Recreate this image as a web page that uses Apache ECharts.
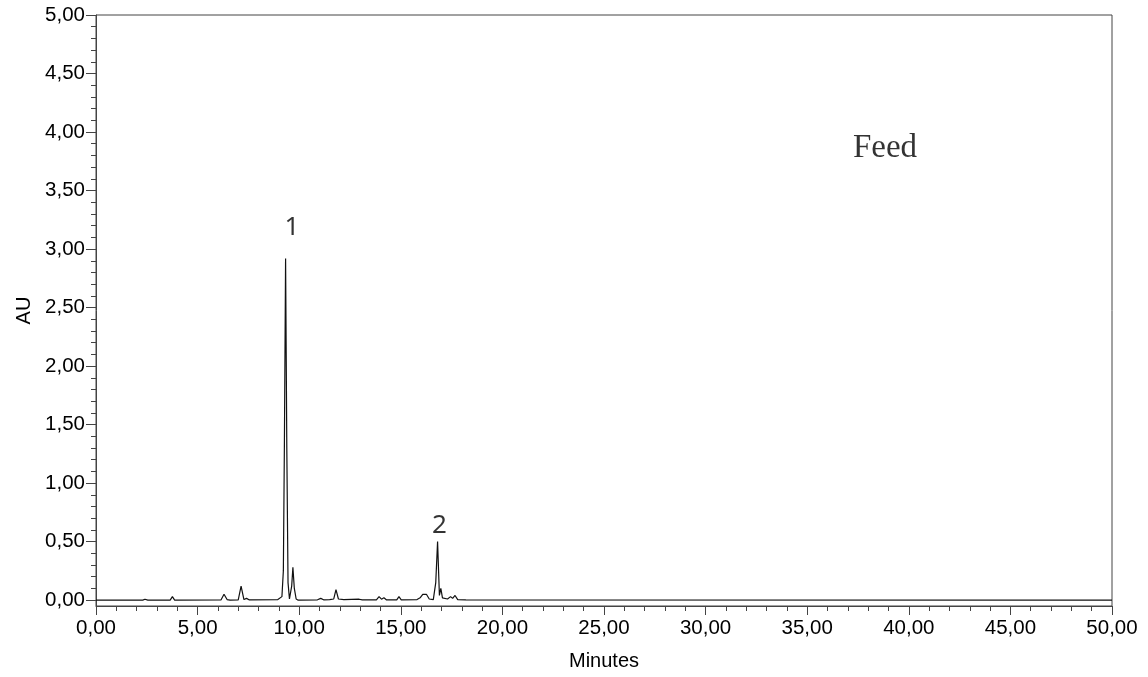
<!DOCTYPE html>
<html>
<head>
<meta charset="utf-8">
<script src="https://cdn.jsdelivr.net/npm/echarts@6/dist/echarts.min.js"></script>
<style>
html,body{margin:0;padding:0;background:#fff;}
#c{width:1148px;height:677px;}
</style>
</head>
<body>
<div id="c"></div>
<script>
// Chromatogram trace: retention time (minutes) and absorbance (AU)
const times = [0, 2.3, 2.41, 2.55, 3.65, 3.76, 3.87, 6.15, 6.3, 6.45, 6.6, 7.0, 7.14, 7.28, 7.41, 7.55,
  8.95, 9.15, 9.22, 9.27, 9.33, 9.39, 9.45, 9.52, 9.57, 9.63, 9.69, 9.76, 9.85, 9.95,
  10.9, 11.06, 11.2, 11.5, 11.7, 11.81, 11.93, 12.2, 12.95, 13.1, 13.8, 13.93, 14.05, 14.17, 14.3,
  14.8, 14.91, 15.02, 15.8, 15.95, 16.08, 16.17, 16.26, 16.4, 16.6, 16.72, 16.81, 16.9, 16.97, 17.05,
  17.3, 17.45, 17.55, 17.67, 17.8, 18.2, 50];
const absorbance = [0, 0, 0.008, 0, 0, 0.03, 0, 0.002, 0.05, 0.005, 0, 0.003, 0.12, 0.005, 0.015, 0.002,
  0.005, 0.03, 0.25, 1.3, 2.92, 1.3, 0.15, 0.01, 0.01, 0.12, 0.28, 0.1, 0.01, 0,
  0.003, 0.015, 0.003, 0.005, 0.01, 0.09, 0.01, 0.005, 0.008, 0.002, 0.003, 0.03, 0.008, 0.02, 0.002,
  0.002, 0.03, 0.003, 0.005, 0.02, 0.05, 0.04, 0.05, 0.01, 0.005, 0.15, 0.5, 0.04, 0.1, 0.02,
  0.01, 0.03, 0.015, 0.04, 0.005, 0.002, 0];

// Annotations: [minutes, AU, text]
const annotations = [[9.64, 3.18, '1'], [16.9, 0.64, '2'], [38.83, 3.86, 'Feed']];

// Axis ticks
const yMajorTicks = [0, 0.5, 1, 1.5, 2, 2.5, 3, 3.5, 4, 4.5, 5];
const yMinorTicks = [0.1, 0.2, 0.3, 0.4, 0.6, 0.7, 0.8, 0.9, 1.1, 1.2, 1.3, 1.4, 1.6, 1.7, 1.8, 1.9,
  2.1, 2.2, 2.3, 2.4, 2.6, 2.7, 2.8, 2.9, 3.1, 3.2, 3.3, 3.4, 3.6, 3.7, 3.8, 3.9, 4.1, 4.2, 4.3, 4.4,
  4.6, 4.7, 4.8, 4.9];
const xMin = 0, xMax = 50, xStep = 5;
const yMin = -0.05, yMax = 5;

const fmt = v => v.toFixed(2).replace('.', ',');
const axisColor = '#444';
const labelFont = 'Liberation Sans, Arial, sans-serif';

const chart = echarts.init(document.getElementById('c'), null, {renderer: 'canvas'});
chart.setOption({
  animation: false,
  backgroundColor: '#fff',
  grid: {left: 96, right: 36, top: 15, bottom: 71, show: true, borderColor: axisColor, borderWidth: 1},
  xAxis: {
    type: 'value', min: xMin, max: xMax, interval: xStep,
    name: 'Minutes', nameLocation: 'middle', nameGap: 45,
    nameTextStyle: {fontFamily: labelFont, fontSize: 20, color: '#000'},
    axisLine: {show: true, onZero: false, lineStyle: {color: axisColor, width: 1}},
    axisTick: {show: true, length: 9, lineStyle: {color: axisColor}},
    minorTick: {show: true, splitNumber: 5, length: 5, lineStyle: {color: axisColor}},
    splitLine: {show: false},
    axisLabel: {formatter: fmt, fontFamily: labelFont, fontSize: 20.5, color: '#000', margin: 12}
  },
  yAxis: [{
    type: 'value', min: yMin, max: yMax,
    name: 'AU', nameLocation: 'middle', nameGap: 61, nameRotate: 90,
    nameTextStyle: {fontFamily: labelFont, fontSize: 20, color: '#000'},
    axisLine: {show: true, lineStyle: {color: axisColor, width: 1}},
    axisTick: {show: true, length: 10, customValues: yMajorTicks, lineStyle: {color: axisColor}},
    splitLine: {show: false},
    axisLabel: {customValues: yMajorTicks, formatter: fmt, fontFamily: labelFont, fontSize: 20.5, color: '#000', margin: 11, padding: [3, 0, 0, 0]}
  }, {
    type: 'value', min: yMin, max: yMax, position: 'left',
    axisLine: {show: false},
    axisTick: {show: true, length: 5, customValues: yMinorTicks, lineStyle: {color: axisColor}},
    axisLabel: {show: false, customValues: yMinorTicks},
    splitLine: {show: false}
  }],
  series: [{
    type: 'line',
    data: times.map((t, i) => [t, absorbance[i]]),
    showSymbol: false, symbol: 'none',
    lineStyle: {color: '#111', width: 1.2},
    z: 3
  }, {
    type: 'scatter',
    data: annotations.map(a => ({
      value: [a[0], a[1]], name: a[2],
      label: a[2] === 'Feed'
        ? {fontFamily: 'Liberation Serif, Times New Roman, serif', fontSize: 33, color: '#000'}
        : {fontFamily: 'Noto Sans, sans-serif', fontSize: 26, color: '#000'}
    })),
    symbolSize: 0,
    label: {show: true, position: 'inside', formatter: p => p.name, color: '#000'},
    z: 4
  }]
});
</script>
</body>
</html>
